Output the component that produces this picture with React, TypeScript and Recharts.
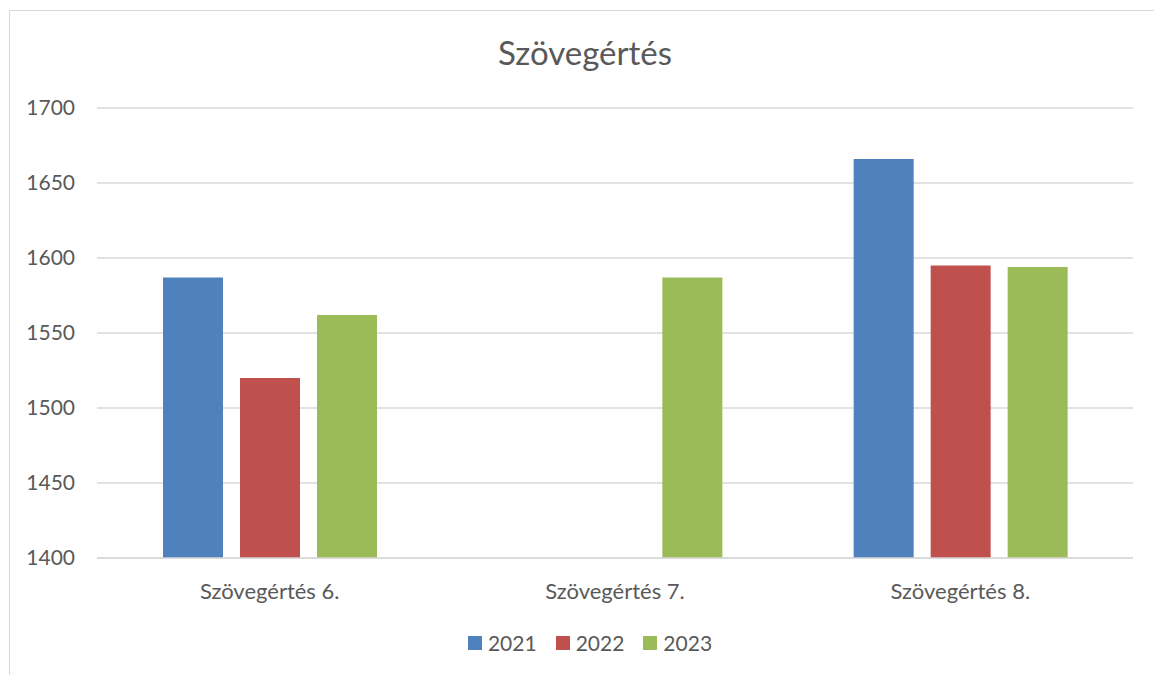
import { BarChart, Bar, XAxis, YAxis, CartesianGrid, Legend } from "recharts";

const categories = ["Szövegértés 6.", "Szövegértés 7.", "Szövegértés 8."];
const years = ["2021", "2022", "2023"];
const values2021: (number | null)[] = [1587, null, 1666];
const values2022: (number | null)[] = [1520, null, 1595];
const values2023: (number | null)[] = [1562, 1587, 1594];
const yTicks = [1400, 1450, 1500, 1550, 1600, 1650, 1700];
const colors = ["#4F81BD", "#C0504D", "#9BBB59"];

const data = categories.map((c, i) => ({
  name: c,
  "2021": values2021[i],
  "2022": values2022[i],
  "2023": values2023[i],
}));

const FONT = "Lato, 'Open Sans', sans-serif";
const TEXT = "#595959";

function LegendContent(props: any) {
  const payload = (props.payload || []) as { value: string; color: string }[];
  return (
    <div style={{ display: "flex", justifyContent: "center", gap: 19, fontFamily: FONT, fontSize: 21, color: TEXT, paddingLeft: 26 }}>
      {payload.map((p) => (
        <div key={p.value} style={{ display: "flex", alignItems: "center" }}>
          <span style={{ width: 14, height: 14, background: p.color, display: "inline-block", marginRight: 6 }} />
          <span>{p.value}</span>
        </div>
      ))}
    </div>
  );
}

export default function App() {
  return (
    <div style={{ position: "fixed", left: 0, top: 0, width: 1154, height: 675, background: "#fff", overflow: "hidden" }}>
      <div style={{ position: "absolute", left: 9, top: 10, width: 1160, height: 700, border: "1.5px solid #d9d9d9" }} />
      <div style={{ position: "absolute", top: 32, left: 585, transform: "translateX(-50%)", fontFamily: FONT, fontSize: 33, color: TEXT, whiteSpace: "nowrap" }}>
        Szövegértés
      </div>
      <div style={{ position: "absolute", left: 0, top: 0 }}>
        <BarChart width={1154} height={675} data={data} margin={{ top: 108, right: 21, left: 0, bottom: 52 }} barGap={17} barSize={60}>
          <CartesianGrid vertical={false} stroke="#d9d9d9" strokeWidth={1.5} />
          <XAxis dataKey="name" height={40} axisLine={{ stroke: "#d9d9d9", strokeWidth: 1.5 }} tickLine={false} tickMargin={19}
            tick={{ fontFamily: FONT, fontSize: 22, fill: TEXT }} />
          <YAxis width={97} domain={[1400, 1700]} ticks={yTicks} axisLine={false} tickLine={false} tickMargin={16}
            tick={{ fontFamily: FONT, fontSize: 21, fill: TEXT }} />
          <Legend content={<LegendContent />} wrapperStyle={{ position: "absolute", top: 630, left: 0, width: 1154 }} />
          {years.map((y, i) => (
            <Bar key={y} dataKey={y} fill={colors[i]} isAnimationActive={false} />
          ))}
        </BarChart>
      </div>
    </div>
  );
}
